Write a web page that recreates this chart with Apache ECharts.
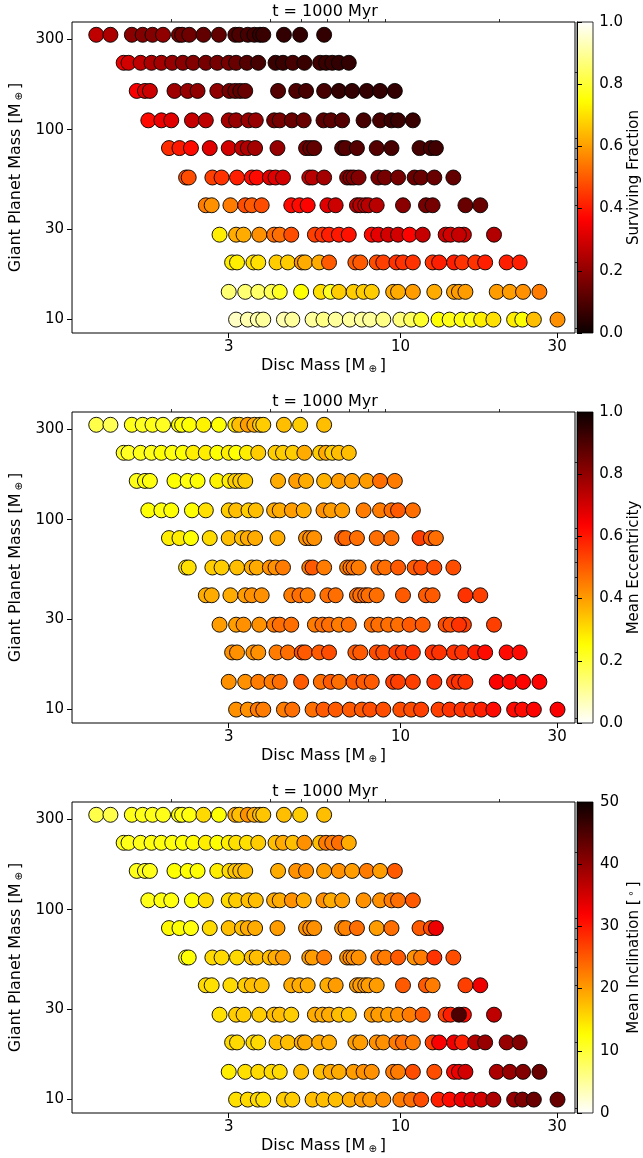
<!DOCTYPE html>
<html><head><meta charset="utf-8">
<script src="https://cdn.jsdelivr.net/npm/echarts@6/dist/echarts.min.js"></script>
<style>html,body{margin:0;padding:0;background:#fff}#c{width:643px;height:1158px}</style>
</head><body><div id="c"></div>
<script>
// ---- data ----
const planetMass = [316, 225, 160, 112, 80, 56, 40, 28, 20, 14, 10];
const discMass = [
 [1.185,1.309,1.521,1.641,1.758,1.893,2.116,2.164,2.275,2.513,2.800,3.142,3.231,3.43,3.592,3.736,3.822,4.418,4.950,5.856],
 [1.436,1.486,1.618,1.746,1.871,2.019,2.175,2.339,2.555,2.769,3.0,3.159,3.408,3.69,4.165,4.389,4.702,5.099,5.695,5.936,6.201,6.495,6.961],
 [1.574,1.667,1.726,2.051,2.25,2.411,2.769,3.016,3.142,3.253,3.368,4.240,4.815,5.159,5.856,6.495,7.123,7.899,8.667,9.614],
 [1.707,1.871,2.005,2.318,2.555,3.0,3.159,3.446,3.627,4.124,4.290,4.671,5.075,5.83,6.145,6.645,7.721,8.667,9.391,9.835,10.91],
 [1.973,2.124,2.302,2.626,3.0,3.292,3.43,3.609,4.222,5.159,5.314,5.463,6.645,6.804,7.371,8.466,9.391,11.43,12.38,12.82],
 [2.225,2.266,2.675,2.853,3.18,3.528,3.652,4.003,4.165,4.389,5.278,5.400,5.856,6.88,7.044,7.2,7.456,8.565,8.973,9.835,11.04,11.56,12.68,14.49],
 [2.555,2.662,3.036,3.368,3.528,3.780,4.651,4.926,5.218,5.992,6.349,7.371,7.547,7.812,7.993,8.466,10.18,11.96,12.53,15.77,17.5],
 [2.813,3.159,3.329,3.718,4.124,4.290,4.651,5.49,5.788,6.061,6.495,6.961,8.178,8.565,9.179,9.835,10.66,11.69,13.73,14.21,15.6,19.27,15.07],
 [3.072,3.18,3.567,3.69,4.194,4.543,5.005,5.123,5.656,6.061,7.29,7.547,8.466,8.866,9.721,10.18,10.91,12.53,13.12,14.56,15.42,16.9,18.11,21.05,23.07],
 [3.0,3.368,3.69,4.05,4.29,4.984,5.723,6.133,6.495,7.2,7.721,8.178,9.502,9.835,10.91,12.68,14.56,15.07,15.77,19.64,21.53,23.62,26.49],
 [3.159,3.43,3.678,3.822,4.418,4.684,5.4,5.83,6.349,7.01,7.63,8.088,8.866,9.99,10.78,11.56,13.06,14.12,15.35,16.44,17.62,19.19,22.19,23.5,25.48,30.08]
];
const survivingFraction = [
 [.27,.24,.19,.18,.18,.2,.16,.15,.15,.13,.13,.1,.1,.09,.08,.07,.07,.06,.06,.06],
 [.34,.30,.27,.24,.23,.21,.19,.18,.16,.16,.16,.14,.11,.09,.07,.07,.09,.07,.08,.07,.07,.06,.06],
 [.36,.31,.29,.22,.21,.2,.2,.16,.15,.13,.14,.11,.1,.09,.09,.06,.06,.06,.06,.06],
 [.38,.34,.32,.28,.27,.23,.21,.21,.21,.16,.16,.14,.14,.12,.12,.11,.09,.09,.07,.07,.07],
 [.43,.40,.38,.32,.30,.27,.25,.23,.21,.16,.14,.13,.11,.11,.11,.11,.09,.09,.09,.08],
 [.48,.48,.46,.44,.41,.38,.38,.32,.32,.30,.28,.26,.23,.19,.18,.18,.18,.16,.16,.16,.14,.14,.14,.13],
 [.55,.58,.55,.48,.50,.48,.38,.38,.365,.32,.29,.26,.26,.27,.26,.26,.19,.16,.16,.14,.14],
 [.72,.62,.62,.58,.53,.53,.48,.46,.44,.41,.40,.39,.38,.33,.30,.30,.365,.28,.29,.30,.29,.25,.28],
 [.72,.72,.70,.70,.67,.67,.58,.62,.62,.5,.5,.5,.48,.46,.44,.44,.44,.44,.41,.41,.44,.44,.41,.41,.41],
 [.86,.86,.85,.83,.78,.75,.70,.78,.67,.67,.67,.67,.62,.62,.6,.62,.61,.6,.6,.6,.6,.58,.55],
 [.94,.92,.92,.9,.92,.9,.9,.88,.9,.9,.9,.9,.88,.87,.84,.79,.75,.77,.76,.77,.72,.70,.72,.75,.65,.58]
];
const meanEccentricity = [
 [.18,.17,.23,.22,.23,.22,.25,.25,.25,.27,.25,.29,.35,.4,.38,.33,.33,.35,.33,.35],
 [.22,.22,.23,.23,.25,.24,.25,.28,.28,.25,.28,.25,.28,.33,.33,.33,.33,.38,.33,.38,.33,.35,.35],
 [.23,.25,.24,.25,.24,.25,.27,.28,.33,.33,.33,.38,.40,.38,.37,.4,.4,.4,.47,.45],
 [.25,.24,.25,.25,.3,.33,.35,.33,.35,.38,.38,.4,.38,.42,.4,.4,.45,.45,.47,.5,.47],
 [.28,.28,.25,.31,.35,.35,.38,.38,.38,.42,.42,.42,.5,.48,.47,.47,.47,.54,.5,.47],
 [.3,.3,.33,.33,.35,.38,.38,.42,.42,.45,.45,.5,.45,.45,.45,.46,.45,.47,.47,.5,.5,.52,.52,.52],
 [.38,.38,.38,.4,.42,.42,.45,.47,.45,.47,.47,.47,.47,.47,.47,.47,.5,.5,.5,.56,.54],
 [.4,.4,.42,.42,.45,.47,.47,.45,.47,.47,.45,.47,.47,.47,.47,.47,.5,.5,.52,.52,.54,.54,.56],
 [.42,.42,.42,.42,.45,.47,.52,.5,.5,.52,.5,.5,.52,.52,.54,.54,.56,.56,.56,.56,.56,.59,.62,.62,.62],
 [.42,.42,.45,.45,.47,.5,.47,.5,.47,.5,.5,.5,.54,.54,.54,.56,.56,.56,.56,.635,.62,.635,.635],
 [.42,.42,.45,.45,.45,.47,.47,.5,.5,.5,.5,.52,.52,.52,.52,.54,.54,.56,.56,.56,.59,.62,.62,.62,.635,.64]
];
const meanInclination = [
 [9,9,11.5,11.5,11.5,11.5,12,12,12,15.5,12.5,19,17.5,21,19,17.5,17,17.5,16.5,17.5],
 [11.5,11.5,11.5,12,12,12,12.5,13,14,12.5,14,15,15,16.5,17.5,19,17.5,21,17.5,22.5,22.5,23.5,19],
 [11.5,11.5,11.5,12.5,12.5,12.5,14,15.5,17,17.5,17.5,19,21,21,20,21,20,22.5,20,25],
 [11.5,12,12,12.5,15.5,15.5,16.5,17.5,17.5,19,19,21,19,21,19,20,21,21,22.5,23.5,25],
 [13,12.5,12,15.5,17.5,17.5,19,19,20,21,21,21,21,22,23.5,20,23.5,25,26,33],
 [11.5,12.5,15.5,15.5,15.5,17.5,17.5,17.5,19,20,20,20,22.5,21,21,21,21,22.5,22.5,25,21,22.5,28,26],
 [15.5,15,15.5,16.5,17.5,17.5,19,19,19,19,20,20,20,20,20,20,25,25,22.5,27,33],
 [15,16.5,16.5,16.5,17.5,17.5,16.5,19,19,19,17.5,17.5,20,20,20,21,22.5,25,27,29.5,31,36.5,45],
 [15.5,15.5,15.5,15.5,17.5,17.5,19,19,19,19,20,20,21,21,22.5,23.5,22.5,27,32,33,29.5,37.5,39.5,39.5,41],
 [14,15,15.5,15.5,15.5,17.5,17.5,19,19,20,21,21,22.5,22.5,26,26,31,33,35,38,39.5,41,43],
 [15,15.5,15.5,15,16.5,16.5,17.5,17.5,17.5,19,20,20,21,22.5,23.5,26,29.5,31,33,34,35,38,39.5,41.5,43,43]
];
const xMajorTicks = [3, 10, 30];
const xMinorTicks = [2, 4, 5, 6, 7, 8, 9, 20];
const yMajorTicks = [10, 30, 100, 300];
const yMinorTicks = [9, 20, 40, 50, 60, 70, 80, 90, 200];
const titleText = 't = 1000 Myr';
const colorbarLabels = ['Surviving Fraction', 'Mean Eccentricity', 'Mean Inclination [{d|∘}]'];
const colorbarMax = [1, 1, 50];
const colorbarStep = [0.2, 0.2, 10];

// ---- styling / layout ----
const FONT = 'DejaVu Sans';
const tops = [22, 412, 802];
const PL = 65, PW = 510, PH = 311, CBL = 577, CBW = 16;
const XMIN = 1, XMAX = 34, YMIN = 8.5, YMAX = 369;

function hot(t) {
  const a = 0.365079, b = 0.746032;
  const r = t < a ? 0.0416 + (1 - 0.0416) * t / a : 1;
  const g = t < a ? 0 : (t < b ? (t - a) / (b - a) : 1);
  const bl = t < b ? 0 : (t - b) / (1 - b);
  return 'rgb(' + Math.round(r * 255) + ',' + Math.round(g * 255) + ',' + Math.round(bl * 255) + ')';
}
const N = 64;
function cmap(rev) { const c = []; for (let k = 0; k <= N; k++) c.push(hot(rev ? 1 - k / N : k / N)); return c; }

const panelValues = [survivingFraction, meanEccentricity, meanInclination];
const grid = [], xAxis = [], yAxis = [], series = [], visualMap = [], title = [], graphic = [];
const subRich = { o: { fontSize: 10, fontFamily: FONT, padding: [7, 3, 0, 3], verticalAlign: 'bottom' } };

for (let p = 0; p < 3; p++) {
  const top = tops[p];
  grid.push({ left: PL, top: top, width: PW, height: PH, show: true, borderColor: '#000', borderWidth: 1, backgroundColor: 'transparent' });
  title.push({ text: titleText, left: PL + PW / 2, top: top - 23, textAlign: 'center',
    textStyle: { fontSize: 16, fontWeight: 'normal', fontFamily: FONT, color: '#000' } });
  const gi = p;
  xAxis.push({ type: 'log', logBase: 10, min: XMIN, max: XMAX, gridIndex: gi,
    name: 'Disc Mass [M{o|⊕}]', nameLocation: 'middle', nameGap: 24,
    nameTextStyle: { fontSize: 16, fontFamily: FONT, color: '#000', rich: subRich },
    axisLine: { show: false }, splitLine: { show: false },
    axisTick: { show: true, length: 5, customValues: xMajorTicks, lineStyle: { color: '#000', width: 1 } },
    axisLabel: { show: true, customValues: xMajorTicks, fontSize: 15, fontFamily: FONT, color: '#000', margin: 7 } });
  xAxis.push({ type: 'log', logBase: 10, min: XMIN, max: XMAX, gridIndex: gi,
    axisLine: { show: false }, splitLine: { show: false }, axisLabel: { show: false },
    axisTick: { show: true, length: 3, customValues: xMinorTicks, lineStyle: { color: '#000', width: 0.8 } } });
  xAxis.push({ type: 'value', gridIndex: 3 + p, show: false, min: 0, max: 1 });

  yAxis.push({ type: 'log', logBase: 10, min: YMIN, max: YMAX, gridIndex: gi,
    name: 'Giant Planet Mass [M{o|⊕}]', nameLocation: 'middle', nameGap: 40,
    nameTextStyle: { fontSize: 16, fontFamily: FONT, color: '#000', rich: subRich },
    axisLine: { show: false }, splitLine: { show: false },
    axisTick: { show: true, length: 5, customValues: yMajorTicks, lineStyle: { color: '#000', width: 1 } },
    axisLabel: { show: true, customValues: yMajorTicks, fontSize: 15, fontFamily: FONT, color: '#000', margin: 8 } });
  yAxis.push({ type: 'log', logBase: 10, min: YMIN, max: YMAX, gridIndex: gi,
    axisLine: { show: false }, splitLine: { show: false }, axisLabel: { show: false },
    axisTick: { show: true, length: 3, customValues: yMinorTicks, lineStyle: { color: '#000', width: 0.8 } } });
  const cmax = colorbarMax[p];
  yAxis.push({ type: 'value', gridIndex: 3 + p, min: 0, max: cmax, interval: colorbarStep[p], position: 'right',
    name: colorbarLabels[p], nameLocation: 'middle', nameGap: 33, nameRotate: 90,
    nameTextStyle: { fontSize: 15, fontFamily: FONT, color: '#000',
      rich: { d: { fontSize: 10, fontFamily: FONT, padding: [0, 3, 7, 3], verticalAlign: 'top' } } },
    axisLine: { show: true, lineStyle: { color: '#000', width: 1 } }, splitLine: { show: false },
    axisTick: { show: true, length: 5, lineStyle: { color: '#000', width: 1 } },
    axisLabel: { fontSize: 15, fontFamily: FONT, color: '#000', margin: 7,
      formatter: v => cmax === 1 ? v.toFixed(1) : String(v) } });

  const vals = panelValues[p];
  const data = [];
  for (let r = 0; r < planetMass.length; r++) {
    for (let i = 0; i < discMass[r].length; i++) data.push([discMass[r][i], planetMass[r], vals[r][i]]);
  }
  series.push({ type: 'scatter', xAxisIndex: p * 3, yAxisIndex: p * 3, data: data, symbol: 'circle', symbolSize: 15,
    itemStyle: { borderColor: '#000', borderWidth: 0.9, opacity: 1 }, emphasis: { disabled: true }, silent: true });
  const rev = p > 0;
  visualMap.push({ type: 'continuous', show: false, seriesIndex: p, dimension: 2, min: 0, max: cmax,
    inRange: { color: cmap(rev) } });
  const stops = [];
  for (let k = 0; k <= N; k++) stops.push({ offset: k / N, color: hot(rev ? 1 - k / N : k / N) });
  graphic.push({ type: 'rect', shape: { x: CBL, y: top, width: CBW, height: PH }, z: 0,
    style: { fill: new echarts.graphic.LinearGradient(0, 1, 0, 0, stops), stroke: '#000', lineWidth: 0.8 } });
}
for (let p = 0; p < 3; p++) grid.push({ left: CBL, top: tops[p], width: CBW, height: PH, show: false });

const chart = echarts.init(document.getElementById('c'), null, { renderer: 'canvas' });
chart.setOption({ animation: false, backgroundColor: '#fff', textStyle: { fontFamily: FONT },
  grid, xAxis, yAxis, series, visualMap, title, graphic });
</script></body></html>
